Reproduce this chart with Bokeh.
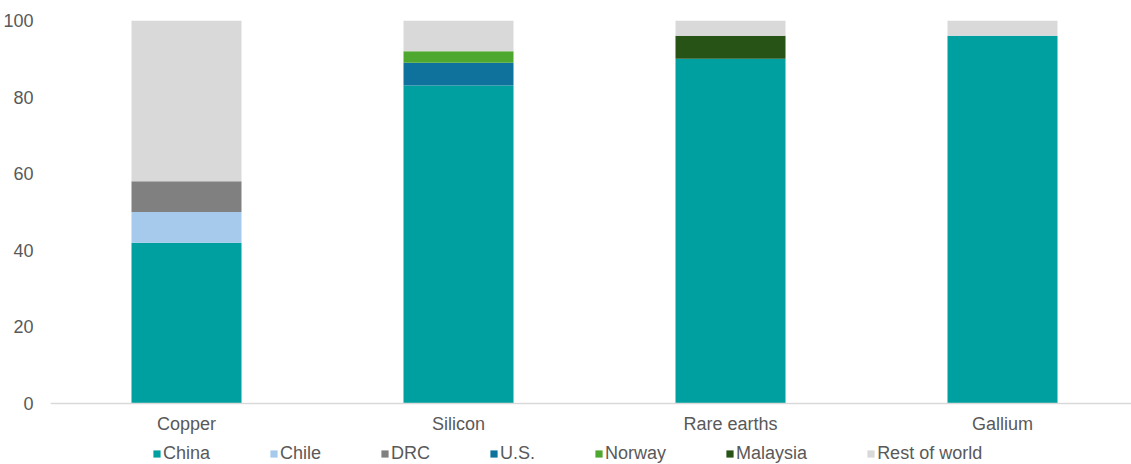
from bokeh.plotting import figure
from bokeh.models import ColumnDataSource, Range1d, Legend, LegendItem, FixedTicker
from bokeh.embed import file_html
from bokeh.resources import INLINE

categories = ["Copper", "Silicon", "Rare earths", "Gallium"]
series = ["China", "Chile", "DRC", "U.S.", "Norway", "Malaysia", "Rest of world"]
china = [42, 83, 90, 96]
chile = [8, 0, 0, 0]
drc = [8, 0, 0, 0]
us = [0, 6, 0, 0]
norway = [0, 3, 0, 0]
malaysia = [0, 0, 6, 0]
rest = [42, 8, 4, 4]
colors = ["#00A0A0", "#A6CAEC", "#808080", "#0E729D", "#4EA72E", "#275317", "#D9D9D9"]
y_ticks = [0, 20, 40, 60, 80, 100]

FONT = "Liberation Sans"
TXT = "#595959"
FS = "18px"

data = dict(x=list(range(len(categories))), China=china, Chile=chile, DRC=drc,
            **{"U.S.": us}, Norway=norway, Malaysia=malaysia, **{"Rest of world": rest})
src = ColumnDataSource(data)

W, H = 1131, 464
LEFT, TOP, AXIS_Y = 50, 20, 403
step_px = 272
plot_px = AXIS_Y - TOP
y_start = -(H - AXIS_Y) / plot_px * 100
p = figure(width=W, height=H, output_backend="svg", toolbar_location=None,
           x_range=Range1d(-0.5, -0.5 + (W - LEFT) / step_px), y_range=Range1d(y_start, 100),
           min_border_left=0, min_border_right=0, min_border_top=TOP, min_border_bottom=0)
p.outline_line_color = None
p.grid.visible = False

rs = p.vbar_stack(series, x="x", width=110 / step_px, source=src, color=colors, line_color=None)

p.yaxis.ticker = FixedTicker(ticks=y_ticks)
p.yaxis.axis_line_color = None
p.yaxis.major_tick_line_color = None
p.yaxis.minor_tick_line_color = None
p.yaxis.major_label_standoff = 17
p.yaxis.major_label_text_font = FONT
p.yaxis.major_label_text_font_size = FS
p.yaxis.major_label_text_color = TXT
p.yaxis[0].major_tick_in = 0
p.yaxis[0].major_tick_out = 0

p.xaxis.fixed_location = 0
p.xaxis.ticker = FixedTicker(ticks=list(range(len(categories))))
p.xaxis.major_label_overrides = {i: c for i, c in enumerate(categories)}
p.xaxis.axis_line_color = "#D9D9D9"
p.xaxis.axis_line_width = 1.5
p.xaxis.major_tick_line_color = None
p.xaxis.minor_tick_line_color = None
p.xaxis[0].major_tick_in = 0
p.xaxis[0].major_tick_out = 0
p.xaxis.major_label_standoff = 10
p.xaxis.major_label_text_font = FONT
p.xaxis.major_label_text_font_size = FS
p.xaxis.major_label_text_color = TXT

legend = Legend(items=[LegendItem(label=s, renderers=[r]) for s, r in zip(series, rs)],
                orientation="horizontal", location=(102, 0),
                padding=0, margin=0, spacing=59, label_standoff=2,
                glyph_width=9, glyph_height=9, label_height=14,
                border_line_color=None, background_fill_alpha=0,
                label_text_font=FONT, label_text_font_size=FS, label_text_color=TXT)
p.add_layout(legend, "center")

open("out.html", "w").write(file_html(p, INLINE))
